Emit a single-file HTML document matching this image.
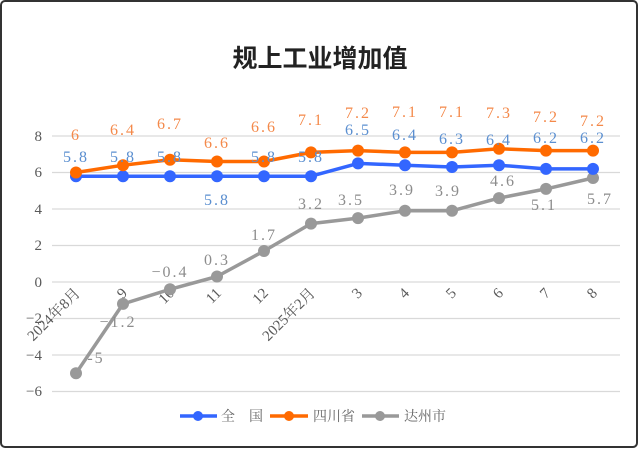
<!DOCTYPE html>
<html><head><meta charset="utf-8"><style>
html,body{margin:0;padding:0;background:#fff}
svg{display:block}
text{font-family:"Liberation Serif","Noto Serif CJK SC",serif}
</style></head><body>
<svg width="640" height="449" viewBox="0 0 640 449" xmlns="http://www.w3.org/2000/svg">
<rect x="1" y="1" width="636" height="446" rx="4" fill="#fff" stroke="#333" stroke-width="2"/>
<text x="320" y="67" text-anchor="middle" font-size="25" font-weight="bold" fill="#222" style="font-family:'Liberation Sans','Noto Sans CJK SC',sans-serif">规上工业增加值</text>
<g stroke="#d9d9d9" stroke-width="1.2">
<line x1="52" x2="620" y1="136" y2="136"/><line x1="52" x2="620" y1="172.5" y2="172.5"/>
<line x1="52" x2="620" y1="209" y2="209"/><line x1="52" x2="620" y1="245.5" y2="245.5"/>
<line x1="52" x2="620" y1="282" y2="282"/><line x1="52" x2="620" y1="318.5" y2="318.5"/>
<line x1="52" x2="620" y1="355" y2="355"/><line x1="52" x2="620" y1="391.5" y2="391.5"/>
</g>
<g font-size="15" fill="#595959" text-anchor="end">
<text x="42" y="141">8</text><text x="42" y="177">6</text><text x="42" y="214">4</text>
<text x="42" y="250">2</text><text x="42" y="287">0</text><text x="42" y="323">−2</text>
<text x="42" y="360">−4</text><text x="42" y="396">−6</text>
</g>
<g font-size="15" fill="#595959" text-anchor="end">
<text transform="translate(81,294) rotate(-45)">2024年8月</text>
<text transform="translate(128,294) rotate(-45)">9</text>
<text transform="translate(175,294) rotate(-45)">10</text>
<text transform="translate(222,294) rotate(-45)">11</text>
<text transform="translate(269,294) rotate(-45)">12</text>
<text transform="translate(316,294) rotate(-45)">2025年2月</text>
<text transform="translate(363,294) rotate(-45)">3</text>
<text transform="translate(410,294) rotate(-45)">4</text>
<text transform="translate(457,294) rotate(-45)">5</text>
<text transform="translate(504,294) rotate(-45)">6</text>
<text transform="translate(551,294) rotate(-45)">7</text>
<text transform="translate(598,294) rotate(-45)">8</text>
</g>
<g fill="none" stroke-width="3.5" stroke-linejoin="round">
<polyline stroke="#999" points="76,373.3 123,303.9 170,289.3 217,276.5 264,251 311,223.6 358,218.1 405,210.8 452,210.8 499,198.1 546,188.9 593,178"/>
<polyline stroke="#3366ff" points="76,176.2 123,176.2 170,176.2 217,176.2 264,176.2 311,176.2 358,163.4 405,165.2 452,167 499,165.2 546,168.9 593,168.9"/>
<polyline stroke="#ff6a00" points="76,172.5 123,165.2 170,159.7 217,161.5 264,161.5 311,152.4 358,150.6 405,152.4 452,152.4 499,148.8 546,150.6 593,150.6"/>
</g>
<g fill="#999">
<circle cx="76" cy="373.3" r="6"/><circle cx="123" cy="303.9" r="6"/><circle cx="170" cy="289.3" r="6"/><circle cx="217" cy="276.5" r="6"/><circle cx="264" cy="251" r="6"/><circle cx="311" cy="223.6" r="6"/><circle cx="358" cy="218.1" r="6"/><circle cx="405" cy="210.8" r="6"/><circle cx="452" cy="210.8" r="6"/><circle cx="499" cy="198.1" r="6"/><circle cx="546" cy="188.9" r="6"/><circle cx="593" cy="178" r="6"/>
</g>
<g fill="#3366ff">
<circle cx="76" cy="176.2" r="6"/><circle cx="123" cy="176.2" r="6"/><circle cx="170" cy="176.2" r="6"/><circle cx="217" cy="176.2" r="6"/><circle cx="264" cy="176.2" r="6"/><circle cx="311" cy="176.2" r="6"/><circle cx="358" cy="163.4" r="6"/><circle cx="405" cy="165.2" r="6"/><circle cx="452" cy="167" r="6"/><circle cx="499" cy="165.2" r="6"/><circle cx="546" cy="168.9" r="6"/><circle cx="593" cy="168.9" r="6"/>
</g>
<g fill="#ff6a00">
<circle cx="76" cy="172.5" r="6"/><circle cx="123" cy="165.2" r="6"/><circle cx="170" cy="159.7" r="6"/><circle cx="217" cy="161.5" r="6"/><circle cx="264" cy="161.5" r="6"/><circle cx="311" cy="152.4" r="6"/><circle cx="358" cy="150.6" r="6"/><circle cx="405" cy="152.4" r="6"/><circle cx="452" cy="152.4" r="6"/><circle cx="499" cy="148.8" r="6"/><circle cx="546" cy="150.6" r="6"/><circle cx="593" cy="150.6" r="6"/>
</g>
<g font-size="16" text-anchor="middle" letter-spacing="2">
<g fill="#f4894a">
<text x="76" y="140">6</text><text x="123" y="135">6.4</text><text x="170" y="129">6.7</text><text x="217" y="148">6.6</text><text x="264" y="132">6.6</text><text x="311" y="125">7.1</text><text x="358" y="118">7.2</text><text x="405" y="117">7.1</text><text x="452" y="117">7.1</text><text x="499" y="118">7.3</text><text x="546" y="122">7.2</text><text x="593" y="126">7.2</text>
</g>
<g fill="#5b8fd0">
<text x="76" y="162">5.8</text><text x="123" y="162">5.8</text><text x="170" y="162">5.8</text><text x="217" y="205">5.8</text><text x="264" y="162">5.8</text><text x="311" y="162">5.8</text><text x="358" y="135">6.5</text><text x="405" y="140">6.4</text><text x="452" y="144">6.3</text><text x="499" y="145">6.4</text><text x="546" y="143">6.2</text><text x="593" y="143">6.2</text>
</g>
<g fill="#8c8c8c">
<text x="96" y="363">-5</text><text x="118" y="327">−1.2</text><text x="170" y="277">−0.4</text><text x="217" y="265">0.3</text><text x="264" y="240">1.7</text><text x="311" y="209">3.2</text><text x="351" y="205">3.5</text><text x="402" y="195">3.9</text><text x="448" y="196">3.9</text><text x="503" y="186">4.6</text><text x="544" y="210">5.1</text><text x="600" y="204">5.7</text>
</g>
</g>
<g stroke-width="3.5">
<line x1="180" x2="217" y1="416" y2="416" stroke="#3366ff"/><circle cx="198" cy="416" r="5" fill="#3366ff"/>
<line x1="270" x2="308" y1="416" y2="416" stroke="#ff6a00"/><circle cx="289" cy="416" r="5" fill="#ff6a00"/>
<line x1="362" x2="399" y1="416" y2="416" stroke="#999"/><circle cx="380" cy="416" r="5" fill="#999"/>
</g>
<g font-size="14" fill="#666">
<text x="221" y="421">全　国</text><text x="313" y="421">四川省</text><text x="404" y="421">达州市</text>
</g>
</svg>
</body></html>
